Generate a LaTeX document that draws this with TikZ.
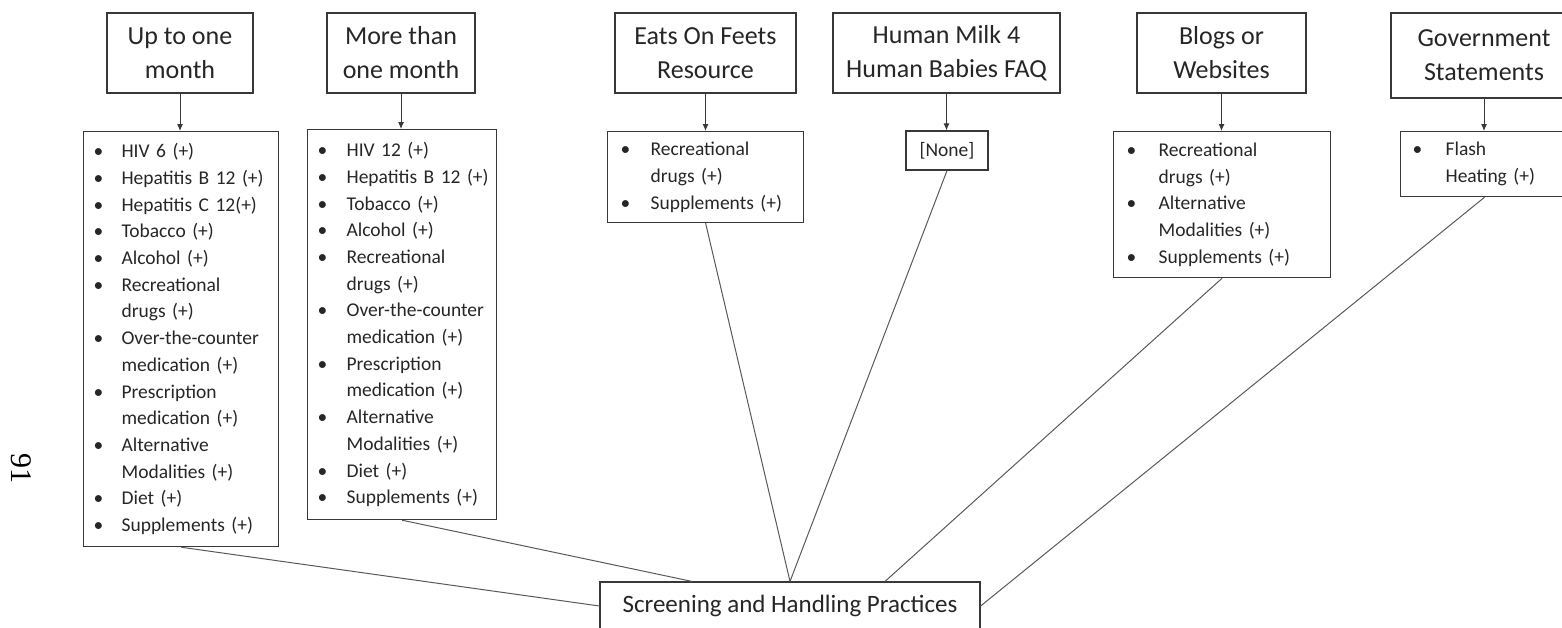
\documentclass[tikz,border=0pt]{standalone}
\usepackage{fontspec}
\setmainfont{Carlito}
\newfontfamily\pgnumfont{Liberation Serif}
\usetikzlibrary{arrows.meta,calc}
\newlength\bulw
\setlength\bulw{28pt}
% bulleted item and its continuation line (kept on one line each)
\newcommand\itm[1]{\makebox[\bulw][l]{\textbullet}\mbox{#1}}
\newcommand\itc[1]{\hspace*{\bulw}\mbox{#1}}

\begin{document}
\begin{tikzpicture}[x=1pt,y=-1pt,
  ink/.style={draw=black!78, line width=1.2pt},
  headbox/.style={ink, align=center, inner sep=0pt, font=\fontsize{26}{34}\selectfont, text=black!85},
  listbox/.style={ink, align=left, anchor=north west, inner ysep=0pt, inner xsep=10pt,
    font=\fontsize{19.5}{26.7}\selectfont, text=black!85},
  bul/.style={execute at begin node={\setlength\bulw{#1}}},
  feed/.style={draw=black!78, line width=1pt, -{Latex[length=7pt,width=6pt]}},
  link/.style={draw=black!65, line width=1pt}]

\clip (0,0) rectangle (1562,627);

% source headings
\node[headbox, minimum width=146pt, minimum height=80pt] (h1) at (180,53) {Up to one\\month};
\node[headbox, minimum width=148pt, minimum height=80pt] (h2) at (401,53) {More than\\one month};
\node[headbox, minimum width=181pt, minimum height=80pt] (h3) at (705.5,53) {Eats On Feets\\Resource};
\node[headbox, minimum width=227pt, minimum height=80pt] (h4) at (946.5,53) {Human Milk 4\\Human Babies FAQ};
\node[headbox, minimum width=169pt, minimum height=80pt] (h5) at (1221.5,53) {Blogs or\\Websites};
\node[headbox, minimum width=186pt, minimum height=85pt] (h6) at (1484,55.5) {Government\\Statements};

% lists of practices
\node[listbox, text width=175pt, minimum height=415pt] (l1) at (83,131)
  {\itm{HIV 6 (+)}\\\itm{Hepatitis B 12 (+)}\\\itm{Hepatitis C 12(+)}\\\itm{Tobacco (+)}\\
   \itm{Alcohol (+)}\\\itm{Recreational}\\\itc{drugs (+)}\\\itm{Over-the-counter}\\
   \itc{medication (+)}\\\itm{Prescription}\\\itc{medication (+)}\\\itm{Alternative}\\
   \itc{Modalities (+)}\\\itm{Diet (+)}\\\itm{Supplements (+)}};
\node[listbox, bul=29pt, text width=169pt, minimum height=390pt] (l2) at (307,129)
  {\itm{HIV 12 (+)}\\\itm{Hepatitis B 12 (+)}\\\itm{Tobacco (+)}\\\itm{Alcohol (+)}\\
   \itm{Recreational}\\\itc{drugs (+)}\\\itm{Over-the-counter}\\\itc{medication (+)}\\
   \itm{Prescription}\\\itc{medication (+)}\\\itm{Alternative}\\\itc{Modalities (+)}\\
   \itm{Diet (+)}\\\itm{Supplements (+)}};
\node[listbox, bul=30pt, inner xsep=13pt, text width=170pt, minimum height=91pt] (l3) at (607,131)
  {\itm{Recreational}\\\itc{drugs (+)}\\\itm{Supplements (+)}};
\node[ink, inner sep=0pt, minimum width=82pt, minimum height=39pt,
  font=\fontsize{19.5}{26.7}\selectfont, text=black!85] (l4) at (947,150.5) {[None]};
\node[listbox, bul=32pt, inner xsep=13pt, text width=191pt, minimum height=146pt] (l5) at (1113,131)
  {\itm{Recreational}\\\itc{drugs (+)}\\\itm{Alternative}\\\itc{Modalities (+)}\\\itm{Supplements (+)}};
\node[listbox, bul=33pt, inner xsep=12pt, text width=144pt, minimum height=65pt] (l6) at (1400,131)
  {\itm{Flash}\\\itc{Heating (+)}};

% common outcome
\node[headbox, font=\fontsize{25}{30}\selectfont, minimum width=380pt, minimum height=48pt] (sh)
  at (790,606) {Screening and Handling Practices};

% heading to list arrows
\foreach \i in {1,...,6}
  \draw[feed] (h\i.south) -- (h\i.south |- l\i.north);

% lists to outcome
\draw[link] (l1.south) -- (sh.west);
\draw[link] (l2.south) -- ([xshift=-98pt]sh.north);
\draw[link] (l3.south) -- (sh.north);
\draw[link] (l4.south) -- (sh.north);
\draw[link] (l5.south) -- ([xshift=95pt]sh.north);
\draw[link] (l6.south) -- (sh.east);

% page number
\node[rotate=-90, font=\pgnumfont\fontsize{30}{30}\selectfont] (pg) at (21,468) {91};
\end{tikzpicture}
\end{document}
